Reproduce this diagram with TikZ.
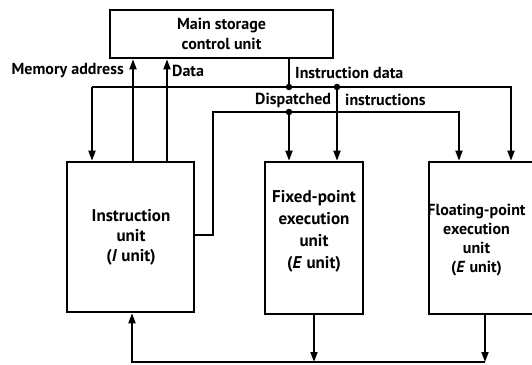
\documentclass[tikz,border=0pt]{standalone}
\usepackage{fontspec}
\setmainfont{PT Sans}
\usetikzlibrary{arrows.meta}
\begin{document}
\begin{tikzpicture}[x=1pt,y=-1pt,
  every node/.style={font=\bfseries\fontsize{16}{20}\selectfont},
  unitbox/.style={draw,line width=2.6pt,align=center,inner sep=0pt},
  unittext/.style={align=center,inner sep=0pt},
  wire/.style={line width=1.8pt},
  arr/.style={wire,-{Triangle[length=10pt,width=7pt]}},
  jdot/.style={circle,fill,inner sep=0pt,minimum size=6.5pt},
  lbl/.style={inner sep=0pt}]
\useasboundingbox (0,0) rectangle (532,364);
\clip (0,0) rectangle (532,364);
% boxes
\node[unitbox,minimum width=223pt,minimum height=48pt] (ms) at (221.5,34) {Main storage\\control unit};
\node[unitbox,minimum width=127pt,minimum height=150pt] (iu) at (130.5,237) {};
\node[unittext,font=\bfseries\fontsize{17}{20}\selectfont] (iut) at (131,237) {Instruction\\unit\\(\textit{I} unit)};
\node[unitbox,minimum width=98pt,minimum height=152pt] (fx) at (314,238) {};
\node[unittext,font=\bfseries\fontsize{17}{22}\selectfont] (fxt) at (314,231) {Fixed-point\\execution\\unit\\(\textit{E} unit)};
\node[unitbox,minimum width=112pt,minimum height=152pt] (fp) at (485,238) {};
\node[unittext,font=\bfseries\fontsize{16}{19}\selectfont] (fpt) at (476.5,240) {Floating-point\\execution\\unit\\(\textit{E} unit)};
% coordinates
\coordinate (ma) at (133,0);
\coordinate (da) at (167,0);
\coordinate (ij) at (289,87);
\coordinate (ib) at (337,87);
\coordinate (iL) at (92,87);
\coordinate (iR) at (511,87);
\coordinate (dA) at (213,235);
\coordinate (dB) at (459,112);
\coordinate (dj) at (289,112);
\coordinate (bt) at (132,362);
\coordinate (be) at (485,362);
% memory address / data
\draw[arr] (iu.north -| ma) -- (ma |- ms.south);
\draw[arr] (iu.north -| da) -- (da |- ms.south);
\node[lbl,anchor=east] (mal) at (124,71) {Memory address};
\node[lbl,anchor=west] (dal) at (172,71) {Data};
% instruction data
\draw[wire] (ij |- ms.south) -- (ij);
\draw[arr] (iL) -- (iL |- iu.north);
\draw[arr] (iL) -- (iR) -- (iR |- fp.north);
\draw[arr] (ib) -- (ib |- fx.north);
\node[jdot] (j1) at (ij) {};
\node[jdot] (j2) at (ib) {};
\node[lbl,anchor=west] (idl) at (295,73) {Instruction data};
% dispatched instructions
\draw[arr] (iu.east |- dA) -- (dA) |- (dB) -- (dB |- fp.north);
\draw[arr] (dj) -- (dj |- fx.north);
\node[jdot] (j3) at (dj) {};
\node[lbl,anchor=west] (dsl) at (255,100) {Dispatched};
\node[lbl,anchor=west] (isl) at (345,100) {instructions};
% outputs
\draw[arr] (fx.south) -- (fx.south |- bt);
\draw[arr] (fp.south) -- (fp.south |- bt);
\draw[arr] (be) -- (bt) -- (bt |- iu.south);
\end{tikzpicture}
\end{document}
